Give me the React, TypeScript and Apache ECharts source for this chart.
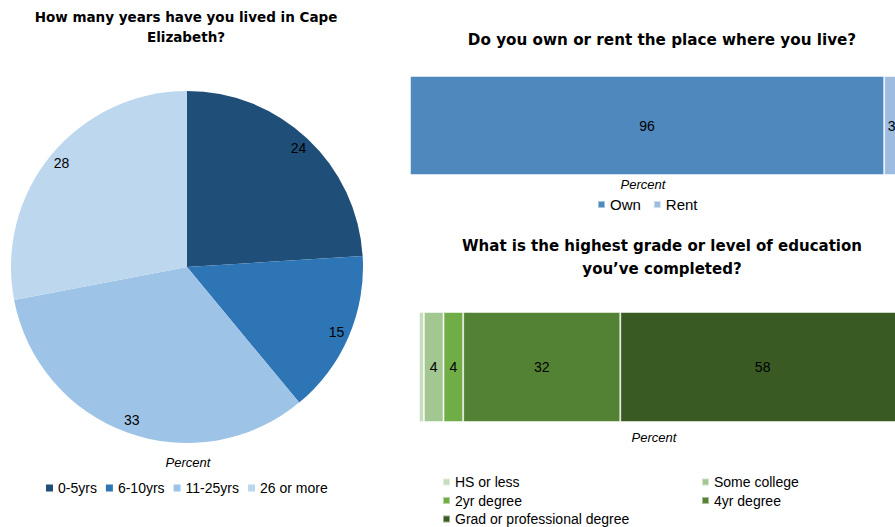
import React, { useEffect, useRef } from "react";
import * as echarts from "echarts";

const yearsCategories = ["0-5yrs", "6-10yrs", "11-25yrs", "26 or more"];
const yearsValues = [24, 15, 33, 28];
const yearsColors = ["#1F4E79", "#2E75B6", "#9DC3E6", "#BDD7EE"];

const ownCategories = ["Own", "Rent"];
const ownValues = [96, 3];
const ownColors = ["#4F88BD", "#9DBCE0"];

const eduCategories = ["HS or less", "Some college", "2yr degree", "4yr degree", "Grad or professional degree"];
const eduValues = [1, 4, 4, 32, 58];
const eduColors = ["#C6DDBC", "#A2C791", "#70AD47", "#548235", "#3A5A24"];
const eduShowLabel = [false, true, true, true, true];

const SANS = "'Liberation Sans', Arial, sans-serif";
const TITLE_FONT = "'DejaVu Sans', sans-serif";

export default function App() {
  const ref = useRef<HTMLDivElement>(null);
  useEffect(() => {
    if (!ref.current) return;
    const chart = echarts.init(ref.current, undefined, { renderer: "svg" });

    const titleBase = { padding: 0, textAlign: "center" as const };
    const boldTitle = (size: number, lh: number) => ({
      fontFamily: TITLE_FONT,
      fontWeight: "bold" as const,
      fontSize: size,
      lineHeight: lh,
      color: "#000",
    });
    const percentStyle = {
      fontFamily: SANS,
      fontStyle: "italic" as const,
      fontWeight: "normal" as const,
      fontSize: 13,
      lineHeight: 14,
      color: "#000",
    };
    const legendBase = {
      padding: 0,
      icon: "rect",
      itemWidth: 7,
      itemHeight: 7,
      selectedMode: false,
      height: 100,
      width: 400,
    };

    const pieData = yearsCategories.map((n, i) => ({
      name: n,
      value: yearsValues[i],
      itemStyle: { color: yearsColors[i] },
    }));

    const option: any = {
      animation: false,
      backgroundColor: "#ffffff",
      title: [
        { ...titleBase, text: "How many years have you lived in Cape\nElizabeth?", left: 186, top: 7, textStyle: boldTitle(13.5, 20) },
        { ...titleBase, text: "Do you own or rent the place where you live?", left: 662, top: 30, textStyle: boldTitle(15.2, 20) },
        { ...titleBase, text: "What is the highest grade or level of education\nyou\u2019ve completed?", left: 662, top: 234, textStyle: boldTitle(15, 23) },
        { ...titleBase, text: "Percent", left: 188, top: 455, textStyle: percentStyle },
        { ...titleBase, text: "Percent", left: 643, top: 177, textStyle: percentStyle },
        { ...titleBase, text: "Percent", left: 654, top: 430, textStyle: percentStyle },
      ],
      legend: [
        {
          ...legendBase,
          left: 46,
          top: 481,
          orient: "horizontal",
          itemGap: 9,
          textStyle: { fontFamily: SANS, fontSize: 14, color: "#000", lineHeight: 14 },
          data: yearsCategories.map((n, i) => ({ name: n, itemStyle: { color: yearsColors[i] } })),
        },
        {
          ...legendBase,
          left: 597,
          top: 197,
          orient: "horizontal",
          itemGap: 12,
          textStyle: { fontFamily: SANS, fontSize: 15, color: "#000", lineHeight: 15 },
          data: ownCategories.map((n, i) => ({ name: n, itemStyle: { color: ownColors[i] } })),
        },
        {
          ...legendBase,
          left: 442,
          top: 475,
          orient: "vertical",
          itemGap: 4.5,
          textStyle: { fontFamily: SANS, fontSize: 14, color: "#000", lineHeight: 14 },
          data: [0, 2, 4].map((i) => ({ name: eduCategories[i], itemStyle: { color: eduColors[i] } })),
        },
        {
          ...legendBase,
          left: 701,
          top: 475,
          orient: "vertical",
          itemGap: 4.5,
          textStyle: { fontFamily: SANS, fontSize: 14, color: "#000", lineHeight: 14 },
          data: [1, 3].map((i) => ({ name: eduCategories[i], itemStyle: { color: eduColors[i] } })),
        },
      ],
      grid: [
        { left: 410, top: 76, width: 489, height: 99, containLabel: false, outerBoundsMode: "none" },
        { left: 419, top: 312, width: 486, height: 110, containLabel: false, outerBoundsMode: "none" },
      ],
      xAxis: [
        { type: "value", gridIndex: 0, min: 0, max: 99, show: false },
        { type: "value", gridIndex: 1, min: 0, max: 99, show: false },
      ],
      yAxis: [
        { type: "category", gridIndex: 0, data: ["Own/Rent"], show: false },
        { type: "category", gridIndex: 1, data: ["Education"], show: false },
      ],
      series: [
        {
          type: "pie",
          name: "years",
          center: [187, 267],
          radius: [0, 176],
          startAngle: 90,
          clockwise: true,
          avoidLabelOverlap: false,
          label: { show: false },
          labelLine: { show: false },
          emphasis: { disabled: true },
          data: pieData,
        },
        {
          type: "pie",
          name: "yearsLabels",
          center: [187, 267],
          radius: [144, 176],
          startAngle: 90,
          clockwise: true,
          silent: true,
          avoidLabelOverlap: false,
          itemStyle: { color: "rgba(0,0,0,0)" },
          label: {
            show: true,
            position: "inside",
            formatter: "{c}",
            fontFamily: SANS,
            fontSize: 14,
            color: "#000",
          },
          labelLine: { show: false },
          emphasis: { disabled: true },
          data: yearsCategories.map((n, i) => ({ name: n, value: yearsValues[i], itemStyle: { color: "rgba(0,0,0,0)" } })),
        },
        ...ownCategories.map((n, i) => ({
          type: "bar",
          name: n,
          stack: "own",
          xAxisIndex: 0,
          yAxisIndex: 0,
          barCategoryGap: "0%",
          itemStyle: { color: ownColors[i], borderColor: "rgba(255,255,255,0.5)", borderWidth: 1 },
          label: { show: true, position: "inside", fontFamily: SANS, fontSize: 14, color: "#000" },
          emphasis: { disabled: true },
          data: [ownValues[i]],
        })),
        ...eduCategories.map((n, i) => ({
          type: "bar",
          name: n,
          stack: "edu",
          xAxisIndex: 1,
          yAxisIndex: 1,
          barCategoryGap: "0%",
          itemStyle: { color: eduColors[i], borderColor: "rgba(255,255,255,0.5)", borderWidth: 1 },
          label: { show: eduShowLabel[i], position: "inside", fontFamily: SANS, fontSize: 14, color: "#000" },
          emphasis: { disabled: true },
          data: [eduValues[i]],
        })),
      ],
    };

    chart.setOption(option);
    return () => chart.dispose();
  }, []);

  return (
    <div
      ref={ref}
      style={{ position: "fixed", left: 0, top: 0, width: 895, height: 527, background: "#fff" }}
    />
  );
}
